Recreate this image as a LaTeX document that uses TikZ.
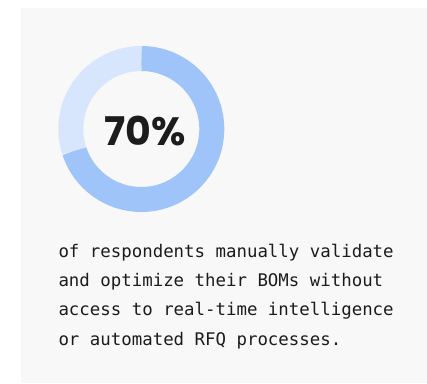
\documentclass[tikz,border=0pt]{standalone}
\usepackage{fontspec}
\usepackage{xcolor}
\definecolor{PanelGrey}{HTML}{F8F8F8}
\definecolor{RingBlue}{HTML}{9FC4FA}
\definecolor{RingLight}{HTML}{D7E6FD}
\definecolor{InkDark}{HTML}{1C1C1C}
\newfontfamily\statfont{Poppins}
\newfontfamily\captionfont{DejaVu Sans Mono}
\usepackage{tikz}
\usetikzlibrary{positioning}

\begin{document}
\begin{tikzpicture}[
    x=1pt, y=1pt,
    ring/.style={line width=25pt},
    stat/.style={
      text=InkDark, inner sep=0pt,
      font=\statfont\bfseries\fontsize{39.5}{39.5}\selectfont
    },
    caption/.style={
      text=InkDark, inner sep=0pt, align=left,
      font=\captionfont\fontsize{17.4}{29.2}\selectfont
    }
  ]
    \useasboundingbox (0,0) rectangle (427,383);
    \fill[PanelGrey] (21,0) rectangle (427,375);

    % donut
    \coordinate (c) at (141.3,254);
    \draw[ring, RingBlue] ([shift={(90:70.5)}]c) arc[start angle=90, end angle=-162, radius=70.5];
    \draw[ring, RingLight] ([shift={(-162:70.5)}]c) arc[start angle=-162, end angle=-270, radius=70.5];

    \node[stat] (pct) at (145,252) {70\%};

    \node[caption, anchor=north west] (txt) at (58.3,139)
      {of respondents manually validate\\and optimize their BOMs without\\access to real-time intelligence\\or automated RFQ processes.};
  \end{tikzpicture}
\end{document}
